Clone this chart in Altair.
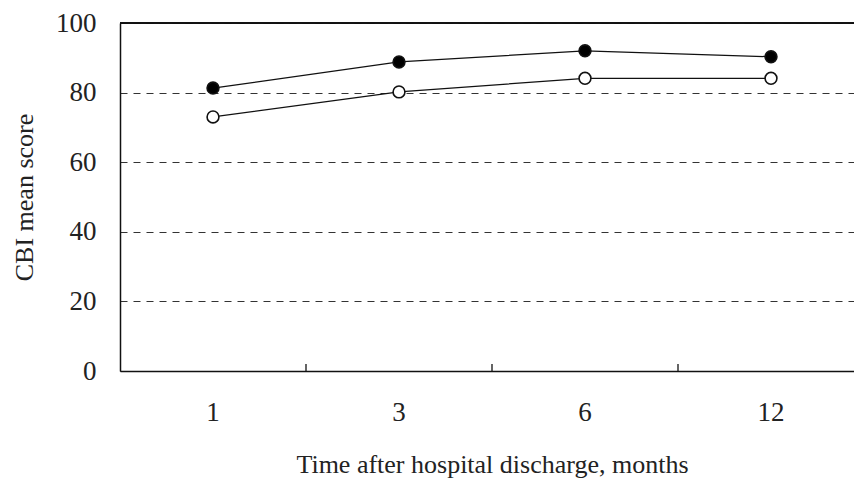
import altair as alt
import pandas as pd

months = ["1", "3", "6", "12"]
filled_scores = [81.3, 88.8, 92.0, 90.3]
open_scores = [73.0, 80.2, 84.1, 84.1]
y_ticks = [0, 20, 40, 60, 80, 100]

rows = []
for m, v in zip(months, filled_scores):
    rows.append({"month": m, "score": v, "series": "A"})
for m, v in zip(months, open_scores):
    rows.append({"month": m, "score": v, "series": "B"})
df = pd.DataFrame(rows)
ticks_df = pd.DataFrame({"month": months[1:]})

FONT = "Liberation Serif"
W, H = 734, 348
X_RANGE = 744  # plot continues past the right edge of the picture

xscale = alt.Scale(type="band", domain=months, paddingInner=0, paddingOuter=0, range=[0, X_RANGE])
yscale = alt.Scale(domain=[0, 100], nice=False, zero=True)

x_axis = alt.Axis(
    title="Time after hospital discharge, months",
    labelAngle=0, labelAlign="center", ticks=False, tickSize=0, grid=False, domain=True,
    domainColor="#111", domainWidth=1.5,
    labelFont=FONT, labelFontSize=27, labelColor="#222", labelPadding=41,
    titleFont=FONT, titleFontSize=26, titleColor="#222", titleFontWeight="normal",
    titlePadding=26,
)
y_axis = alt.Axis(
    title="CBI mean score", values=y_ticks, ticks=False, tickSize=0,
    grid=True, gridDash=[7, 6], gridColor="#333", gridWidth=1.2,
    domain=True, domainColor="#111", domainWidth=1.5,
    labelFont=FONT, labelFontSize=27, labelColor="#222", labelPadding=24,
    titleFont=FONT, titleFontSize=26, titleColor="#222", titleFontWeight="normal",
    titlePadding=18,
)

base = alt.Chart(df)

lines = base.mark_line(color="#111", strokeWidth=1.3).encode(
    x=alt.X("month:N", scale=xscale, axis=x_axis, bandPosition=0.5),
    y=alt.Y("score:Q", scale=yscale, axis=y_axis),
    detail="series:N",
)
points = base.mark_point(filled=True, size=140, stroke="#111", strokeWidth=1.6, opacity=1).encode(
    x=alt.X("month:N", scale=xscale, bandPosition=0.5),
    y=alt.Y("score:Q", scale=yscale),
    fill=alt.Fill("series:N", scale=alt.Scale(domain=["A", "B"], range=["#000000", "#ffffff"]), legend=None),
)
tick_rules = alt.Chart(ticks_df).mark_rule(color="#111", strokeWidth=1.3).encode(
    x=alt.X("month:N", scale=xscale, bandPosition=0),
    y=alt.datum(0),
    y2=alt.datum(2),
)
top_border = alt.Chart(ticks_df).mark_rule(color="#111", strokeWidth=1.5).encode(
    y=alt.datum(100),
)

chart = alt.layer(tick_rules, lines, points, top_border).properties(
    width=W, height=H,
    autosize=alt.AutoSizeParams(type="none"),
    padding={"left": 112, "top": 15, "right": 0, "bottom": 107},
).configure_view(stroke=None).configure(background="white")

chart.save("out.html", embed_options={"renderer": "svg", "actions": False})
